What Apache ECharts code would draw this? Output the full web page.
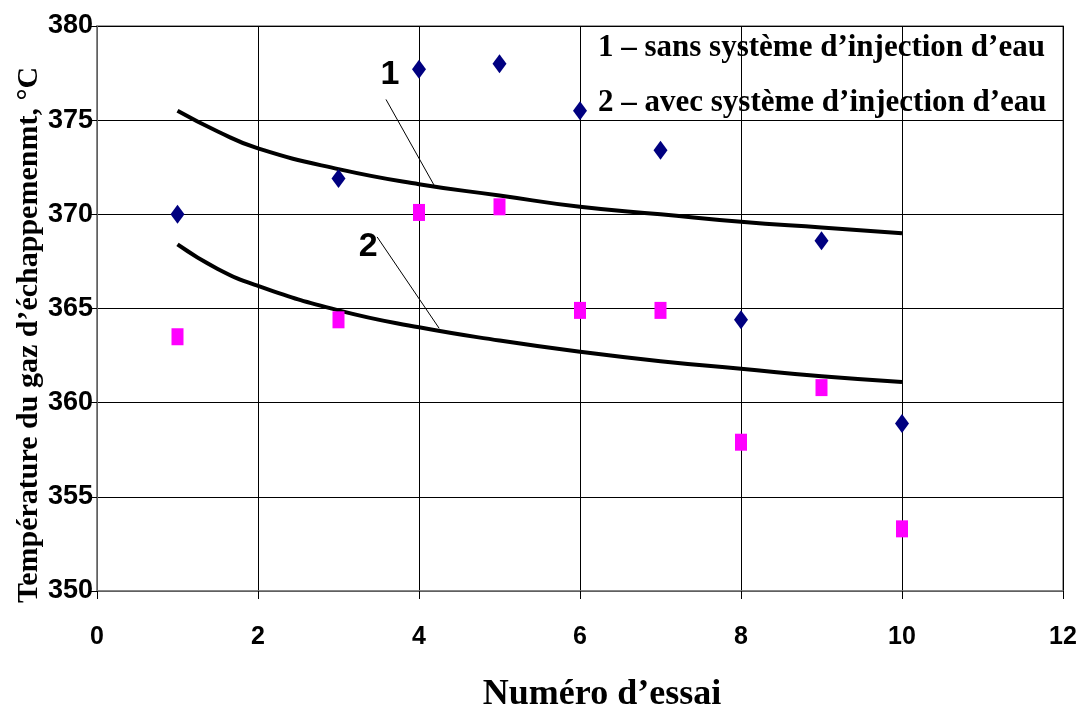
<!DOCTYPE html>
<html>
<head>
<meta charset="utf-8">
<script src="https://cdn.jsdelivr.net/npm/echarts@6/dist/echarts.min.js"></script>
<style>
html,body{margin:0;padding:0;background:#fff;}
#chart{width:1089px;height:715px;}
</style>
</head>
<body>
<div id="chart"></div>
<script>
// ---- data ----
const essais = [1, 3, 4, 5, 6, 7, 8, 9, 10];
const sansInjection = [370.0, 371.9, 377.7, 378.0, 375.5, 373.4, 364.4, 368.6, 358.9];
const avecInjection = [363.5, 364.4, 370.1, 370.4, 364.9, 364.9, 357.9, 360.8, 353.3];
const trendX = [1, 1.5, 2, 3, 4, 5, 6, 7, 8, 9, 10];
const trend1 = [375.5, 374.4, 373.5, 372.4, 371.6, 371.0, 370.4, 370.0, 369.6, 369.3, 369.0];
const trend2 = [368.4, 367.1, 366.2, 364.9, 364.0, 363.3, 362.7, 362.2, 361.8, 361.4, 361.1];
const xTicks = [0, 2, 4, 6, 8, 10, 12];
const yTicks = [350, 355, 360, 365, 370, 375, 380];
const curveLabels = ['1', '2'];
const labelPos = [[3.64, 377.4], [3.37, 368.3]];
const leader1 = [[3.59, 376.1], [4.20, 371.45]];
const leader2 = [[3.48, 368.8], [4.25, 363.95]];
const legendTexts = ['1 – sans système d’injection d’eau', '2 – avec système d’injection d’eau'];
const xTitle = 'Numéro d’essai';
const yTitle = 'Température du gaz d’échappemenmt, °C';

const zip = (xs, ys) => xs.map((x, i) => [x, ys[i]]);

const chart = echarts.init(document.getElementById('chart'), null, {renderer: 'canvas'});
const serif = '"Liberation Serif", "Times New Roman", serif';
const sans = '"Liberation Sans", Arial, sans-serif';

chart.setOption({
  backgroundColor: '#fff',
  animation: false,
  grid: {left: 97, right: 26, top: 26, bottom: 124, containLabel: false, outerBoundsMode: 'none',
         show: true, borderColor: '#808080', borderWidth: 1.5},
  xAxis: {
    type: 'value', min: xTicks[0], max: xTicks[xTicks.length - 1], interval: 2,
    axisLine: {show: true, lineStyle: {color: '#808080', width: 1.5}},
    axisTick: {show: true, length: 8, lineStyle: {color: '#000'}},
    axisLabel: {margin: 34, fontFamily: sans, fontWeight: 'bold', fontSize: 25, color: '#000'},
    splitLine: {show: true, lineStyle: {color: '#000', width: 1}}
  },
  yAxis: {
    type: 'value', min: yTicks[0], max: yTicks[yTicks.length - 1], interval: 5,
    axisLine: {show: true, lineStyle: {color: '#808080', width: 1.5}},
    axisTick: {show: true, length: 8, lineStyle: {color: '#000'}},
    axisLabel: {margin: 4, fontFamily: sans, fontWeight: 'bold', fontSize: 27, color: '#000'},
    splitLine: {show: true, lineStyle: {color: '#000', width: 1}}
  },
  series: [
    {type: 'line', data: zip(trendX, trend1), smooth: true, showSymbol: false, lineStyle: {color: '#000', width: 4}, z: 3},
    {type: 'line', data: zip(trendX, trend2), smooth: true, showSymbol: false, lineStyle: {color: '#000', width: 4}, z: 3},
    {type: 'line', data: leader1, showSymbol: false, lineStyle: {color: '#000', width: 1}, z: 3},
    {type: 'line', data: leader2, showSymbol: false, lineStyle: {color: '#000', width: 1}, z: 3},
    {type: 'scatter', data: zip(essais, sansInjection), symbol: 'diamond', symbolSize: [14, 19], itemStyle: {color: '#000080', opacity: 1}, z: 5},
    {type: 'scatter', data: zip(essais, avecInjection), symbol: 'rect', symbolSize: [12, 17], itemStyle: {color: '#FF00FF', opacity: 1}, z: 5},
    {type: 'scatter', data: labelPos.map((p, i) => ({value: p, name: curveLabels[i]})), symbolSize: 0, itemStyle: {opacity: 1},
     label: {show: true, position: 'inside', formatter: p => p.name, fontFamily: sans, fontWeight: 'bold', fontSize: 34, color: '#000', opacity: 1}, z: 6}
  ],
  graphic: [
    {type: 'text', x: 598, y: 48, style: {text: legendTexts[0], font: 'bold 31px ' + serif, fill: '#000', textVerticalAlign: 'middle'}},
    {type: 'text', x: 598, y: 103, style: {text: legendTexts[1], font: 'bold 31px ' + serif, fill: '#000', textVerticalAlign: 'middle'}},
    {type: 'text', x: 602, y: 695, style: {text: xTitle, font: 'bold 36px ' + serif, fill: '#000', textAlign: 'center', textVerticalAlign: 'middle'}},
    {type: 'text', x: 29, y: 335, rotation: Math.PI / 2, style: {text: yTitle, font: 'bold 30px ' + serif, fill: '#000', textAlign: 'center', textVerticalAlign: 'middle'}}
  ]
});
</script>
</body>
</html>
